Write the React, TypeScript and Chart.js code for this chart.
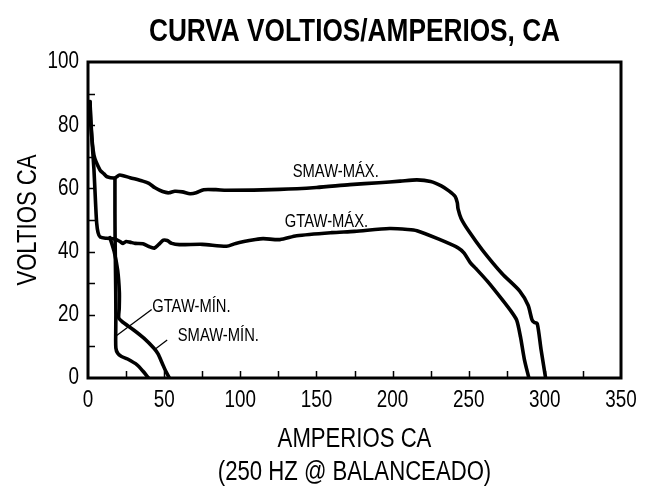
import React, { useEffect, useRef } from "react";
import { Chart, registerables } from "chart.js";

Chart.register(...registerables);

const FONT = "'Liberation Sans Narrow', 'Liberation Sans', Arial, sans-serif";
const NARROW = 0.82; // horizontal squeeze to mimic a condensed face

const chartTitle = "CURVA VOLTIOS/AMPERIOS, CA";
const yTitle = "VOLTIOS CA";
const xTitle = ["AMPERIOS CA", "(250 HZ @ BALANCEADO)"];

const xMin = 0;
const xMax = 350;
const xStep = 50;
const xMinorStep = 25;
const yMin = 0;
const yMax = 100;
const yStep = 20;
const yMinorStep = 10;

// SMAW-MÁX.
const smawMaxAmps = [1.3, 1.8, 3.9, 7.9, 10.5, 12.5, 17.7, 20.5, 22.5, 27.6, 36, 40, 44, 49, 53, 57, 62, 67, 71, 76, 84, 91, 126, 150, 172, 191, 205, 216, 225, 232, 237, 241, 242.5, 243, 245, 250, 259, 272, 283.5, 289, 291.5, 293, 295, 297.5, 300.5];
const smawMaxVolts = [87.5, 80.6, 70.5, 65.8, 64.6, 63.7, 63.3, 64.2, 64.1, 63.4, 62.3, 61.6, 60.2, 59, 58.6, 59.1, 58.9, 58.3, 58.6, 59.6, 59.6, 59.4, 59.7, 60.3, 61.2, 61.8, 62.3, 62.7, 62.2, 60.8, 59.2, 57.5, 55.5, 53.5, 50.5, 46.5, 40.5, 33, 27.5, 23, 18.5, 17.6, 17.2, 9, 0];

// GTAW-MÁX.
const gtawMaxAmps = [1.3, 2.5, 3.9, 5, 5.7, 6.6, 8, 12, 17.7, 21, 23, 25, 27.5, 31, 36, 40, 43.5, 46.5, 49.5, 52, 55, 60, 75, 91, 97, 110, 115, 126, 137, 160, 175, 198, 210, 216, 230, 243, 247, 251, 255, 262.5, 272, 278, 281.5, 284, 286.5, 289.5];
const gtawMaxVolts = [87.5, 76, 66, 55, 49, 46, 44.6, 44.2, 44, 43.2, 42.6, 43.2, 43, 42.6, 42.5, 41.6, 41.1, 42.3, 43.6, 43.5, 42.6, 42.2, 42.3, 41.7, 42.6, 43.8, 44.1, 43.8, 45, 46, 46.4, 47.3, 47, 46.6, 44, 41.2, 39.5, 36.5, 34.5, 30.5, 24.8, 21, 18.3, 13, 6, 0];

// GTAW-MÍN.
const gtawMinAmps = [17.7, 17.7, 17.8, 18, 18.2, 18.3, 18.2, 18.3, 19.5, 22, 26, 32.4, 36, 39.8];
const gtawMinVolts = [63.3, 52, 44, 36, 28, 20, 14, 9.5, 7.8, 6.8, 6, 4.1, 2.2, 0];

// SMAW-MÍN.
const smawMinAmps = [14.4, 17.2, 19.5, 20.6, 20.5, 20.2, 22.5, 30, 36.7, 43.3, 46, 48.8, 51, 53.5];
const smawMinVolts = [44.4, 40, 34, 27, 22, 19, 17.8, 15.2, 12.6, 9.4, 7.6, 4.6, 2.2, 0];

// curve labels (text anchored in data units)
const curveLabels = ["SMAW-MÁX.", "GTAW-MÁX.", "GTAW-MÍN.", "SMAW-MÍN."];
const curveLabelAmps = [162.7, 156.6, 67.9, 85.6];
const curveLabelVolts = [65.3, 49.5, 22.6, 13.4];

// leader lines for the MÍN. labels
const gtawLeaderAmps = [41.8, 18.4];
const gtawLeaderVolts = [21.7, 13.3];
const smawLeaderAmps = [52, 44];
const smawLeaderVolts = [12, 9.1];

const zip = (xs: number[], ys: number[]) => xs.map((x, i) => ({ x, y: ys[i] }));

function narrowText(
  ctx: CanvasRenderingContext2D,
  text: string,
  x: number,
  y: number,
  size: number,
  opts: { bold?: boolean; align?: CanvasTextAlign; rotate?: boolean } = {}
) {
  ctx.save();
  ctx.translate(x, y);
  if (opts.rotate) ctx.rotate(-Math.PI / 2);
  ctx.scale(NARROW, 1);
  ctx.font = `${opts.bold ? "bold " : ""}${size}px ${FONT}`;
  ctx.fillStyle = "#000";
  ctx.textAlign = opts.align || "center";
  ctx.textBaseline = "middle";
  ctx.fillText(text, 0, 0);
  ctx.restore();
}

const framePlugin = {
  id: "frameAndLabels",
  afterDraw(chart: any) {
    const { ctx, chartArea, scales } = chart;
    const xs = scales.x;
    const ys = scales.y;
    const cx = (chartArea.left + chartArea.right) / 2;
    const cy = (chartArea.top + chartArea.bottom) / 2;
    ctx.save();
    ctx.strokeStyle = "#000";
    // minor inward ticks
    ctx.lineWidth = 1.5;
    ctx.beginPath();
    for (let v = xMin + xMinorStep; v < xMax; v += xMinorStep) {
      const px = Math.round(xs.getPixelForValue(v)) + 0.5;
      ctx.moveTo(px, chartArea.bottom);
      ctx.lineTo(px, chartArea.bottom - 7);
    }
    for (let v = yMin + yMinorStep; v < yMax; v += yMinorStep) {
      const py = Math.round(ys.getPixelForValue(v)) + 0.5;
      ctx.moveTo(chartArea.left, py);
      ctx.lineTo(chartArea.left + 7, py);
    }
    ctx.stroke();
    // frame
    ctx.lineWidth = 3;
    ctx.strokeRect(chartArea.left, chartArea.top, chartArea.right - chartArea.left, chartArea.bottom - chartArea.top);
    ctx.restore();

    // tick labels from the library's own ticks
    xs.ticks.forEach((t: any) => {
      narrowText(ctx, String(t.value), xs.getPixelForValue(t.value), chartArea.bottom + 23, 23);
    });
    ys.ticks.forEach((t: any) => {
      narrowText(ctx, String(t.value), chartArea.left - 9, ys.getPixelForValue(t.value), 23, { align: "right" });
    });
    // axis titles
    narrowText(ctx, yTitle, 29, cy, 27, { rotate: true });
    narrowText(ctx, xTitle[0], cx, chartArea.bottom + 62, 27);
    narrowText(ctx, xTitle[1], cx, chartArea.bottom + 95, 27);
    // curve labels
    curveLabels.forEach((t, i) => {
      narrowText(ctx, t, xs.getPixelForValue(curveLabelAmps[i]), ys.getPixelForValue(curveLabelVolts[i]), 18);
    });
    // chart title
    narrowText(ctx, chartTitle, cx, 32, 32, { bold: true });
  },
};

export default function App() {
  const ref = useRef<HTMLCanvasElement | null>(null);
  useEffect(() => {
    if (!ref.current) return;
    const curveStyle = {
      borderColor: "#000",
      borderWidth: 3.6,
      pointRadius: 0,
      tension: 0.25,
      fill: false,
      borderCapStyle: "round" as const,
      borderJoinStyle: "round" as const,
    };
    const leaderStyle = {
      borderColor: "#000",
      borderWidth: 1.3,
      pointRadius: 0,
      tension: 0,
      fill: false,
    };
    const chart = new Chart(ref.current, {
      type: "line",
      data: {
        datasets: [
          { label: "SMAW-MÁX.", data: zip(smawMaxAmps, smawMaxVolts), ...curveStyle },
          { label: "GTAW-MÁX.", data: zip(gtawMaxAmps, gtawMaxVolts), ...curveStyle },
          { label: "GTAW-MÍN.", data: zip(gtawMinAmps, gtawMinVolts), ...curveStyle },
          { label: "SMAW-MÍN.", data: zip(smawMinAmps, smawMinVolts), ...curveStyle },
          { label: "gtaw-leader", data: zip(gtawLeaderAmps, gtawLeaderVolts), ...leaderStyle },
          { label: "smaw-leader", data: zip(smawLeaderAmps, smawLeaderVolts), ...leaderStyle },
        ],
      },
      options: {
        responsive: false,
        animation: false,
        events: [],
        layout: { padding: { left: 0, right: 33, top: 62, bottom: 0 } },
        plugins: {
          legend: { display: false },
          tooltip: { enabled: false },
          title: { display: false },
        },
        scales: {
          x: {
            type: "linear",
            min: xMin,
            max: xMax,
            grid: { display: false, drawTicks: false },
            border: { display: false },
            ticks: { stepSize: xStep, display: false },
            afterFit(scale: any) {
              scale.height = 113;
              scale.paddingLeft = 0;
              scale.paddingRight = 0;
            },
          },
          y: {
            type: "linear",
            min: yMin,
            max: yMax,
            grid: { display: false, drawTicks: false },
            border: { display: false },
            ticks: { stepSize: yStep, display: false },
            afterFit(scale: any) {
              scale.width = 88;
              scale.paddingTop = 0;
              scale.paddingBottom = 0;
            },
          },
        },
      },
      plugins: [framePlugin],
    });
    return () => chart.destroy();
  }, []);
  return (
    <div style={{ position: "fixed", left: 0, top: 0, width: 654, height: 491, background: "#fff" }}>
      <canvas ref={ref} width={654} height={491} />
    </div>
  );
}
